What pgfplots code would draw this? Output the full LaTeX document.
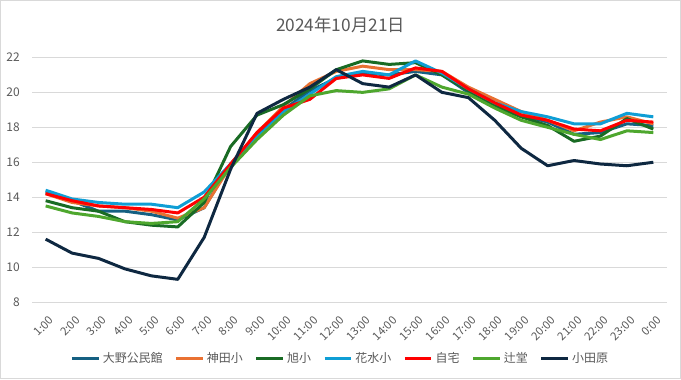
\documentclass[border=0pt]{standalone}
\usepackage{fontspec}
\setmainfont{Noto Sans CJK JP}
\usepackage{pgfplots}
\usepackage{pgfplotstable}
\pgfplotsset{compat=1.18}
\definecolor{cOono}{HTML}{156082}
\definecolor{cKanda}{HTML}{E97132}
\definecolor{cAsahi}{HTML}{196B24}
\definecolor{cHana}{HTML}{0F9ED5}
\definecolor{cJitaku}{HTML}{FF0000}
\definecolor{cTsuji}{HTML}{4EA72E}
\definecolor{cOda}{HTML}{0E2841}
\definecolor{txtgray}{HTML}{595959}
\definecolor{gridgray}{HTML}{D9D9D9}
\pgfplotstableread{
h  oono kanda asahi hana jitaku tsuji odawara
1  14.3 14.2 13.8 14.4 14.2 13.5 11.6
2  13.8 13.7 13.4 13.9 13.8 13.1 10.8
3  13.2 13.5 13.2 13.7 13.5 12.9 10.5
4  13.2 13.4 12.6 13.6 13.4 12.6 9.9
5  13.0 13.2 12.4 13.6 13.3 12.5 9.5
6  12.7 12.8 12.3 13.4 13.1 12.6 9.3
7  13.4 13.4 13.7 14.3 14.0 13.9 11.7
8  15.9 15.8 16.9 15.9 15.9 15.7 15.6
9  17.6 17.7 18.7 17.4 17.7 17.3 18.8
10 19.0 19.2 19.3 18.9 19.1 18.7 19.6
11 20.1 20.5 20.2 19.9 19.6 19.8 20.3
12 20.8 21.2 21.3 20.9 20.8 20.1 21.3
13 21.1 21.5 21.8 21.2 21.0 20.0 20.5
14 21.0 21.3 21.6 21.0 20.8 20.2 20.3
15 21.2 21.3 21.7 21.8 21.4 21.0 21.0
16 21.0 21.2 21.0 21.1 21.2 20.3 20.0
17 20.0 20.3 20.1 20.2 20.2 19.9 19.7
18 19.3 19.6 19.2 19.4 19.4 19.1 18.4
19 18.7 18.9 18.6 18.9 18.7 18.4 16.8
20 18.3 18.4 18.1 18.6 18.4 18.0 15.8
21 17.6 17.8 17.2 18.2 17.9 17.6 16.1
22 17.7 18.3 17.5 18.2 17.8 17.3 15.9
23 18.2 18.6 18.5 18.8 18.4 17.8 15.8
24 18.1 18.2 17.9 18.6 18.3 17.7 16.0
}\temps
\begin{document}
\begin{tikzpicture}[x=1pt,y=1pt]
\draw[color=gridgray, line width=0.75pt] (0,0) rectangle (510.75,284.25);
\node[font=\fontsize{13}{13}\selectfont, text=txtgray] at (255.4,266) {2024年10月21日};
\begin{axis}[
  at={(24pt,57.75pt)}, anchor=south west,
  scale only axis, width=476.25pt, height=183.75pt,
  xmin=0.5, xmax=24.5, ymin=8, ymax=22,
  ytick={8,10,...,22},
  xtick={1,...,24},
  xticklabels={1:00,2:00,3:00,4:00,5:00,6:00,7:00,8:00,9:00,10:00,11:00,12:00,13:00,14:00,15:00,16:00,17:00,18:00,19:00,20:00,21:00,22:00,23:00,0:00},
  axis line style={draw=none},
  ymajorgrids,
  grid style={color=gridgray, line width=0.75pt},
  major tick length=0pt,
  tick label style={font=\fontsize{9}{9}\selectfont, text=txtgray},
  /pgf/number format/assume math mode=true,
  xticklabel style={rotate=45, anchor=north east, inner sep=0.5pt, yshift=-8pt, xshift=-5pt, font=\fontsize{8.5}{8.5}\selectfont},
  yticklabel style={xshift=-6pt},
  clip=false,
  legend columns=7,
  legend style={at={(0.486,-0.229)}, anchor=center, draw=none, fill=none,
    font=\fontsize{9}{9}\selectfont, text=txtgray,
    /tikz/every even column/.append style={column sep=7pt}},
  legend image code/.code={\draw[#1] (0pt,0pt) -- (20pt,0pt);},
  every axis plot/.append style={line width=2.25pt, line join=round},
]
\addplot[cOono] table[x=h,y=oono]{\temps};
\addplot[cKanda] table[x=h,y=kanda]{\temps};
\addplot[cAsahi] table[x=h,y=asahi]{\temps};
\addplot[cHana] table[x=h,y=hana]{\temps};
\addplot[cJitaku] table[x=h,y=jitaku]{\temps};
\addplot[cTsuji] table[x=h,y=tsuji]{\temps};
\addplot[cOda] table[x=h,y=odawara]{\temps};
\legend{大野公民館,神田小,旭小,花水小,自宅,辻堂,小田原}
\end{axis}
\end{tikzpicture}
\end{document}
